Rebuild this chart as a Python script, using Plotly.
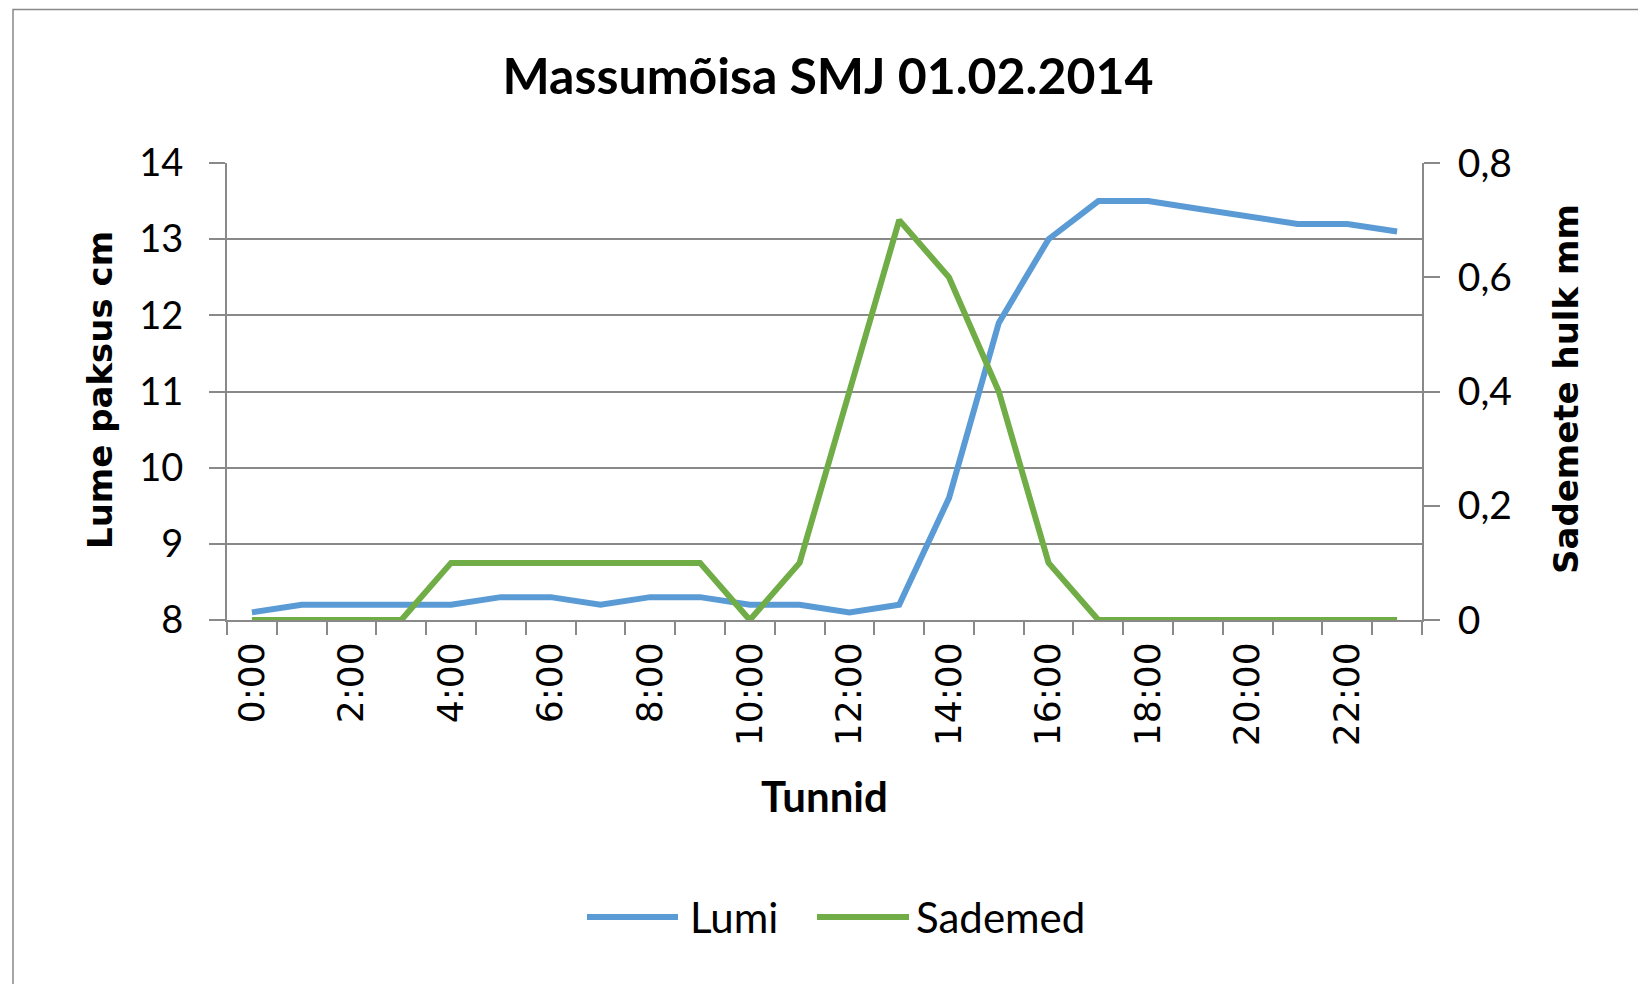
import plotly.graph_objects as go

hours = ["0:00", "1:00", "2:00", "3:00", "4:00", "5:00", "6:00", "7:00", "8:00", "9:00",
         "10:00", "11:00", "12:00", "13:00", "14:00", "15:00", "16:00", "17:00", "18:00",
         "19:00", "20:00", "21:00", "22:00", "23:00"]
lumi = [8.1, 8.2, 8.2, 8.2, 8.2, 8.3, 8.3, 8.2, 8.3, 8.3, 8.2, 8.2, 8.1, 8.2,
        9.6, 11.9, 13.0, 13.5, 13.5, 13.4, 13.3, 13.2, 13.2, 13.1]
sademed = [0, 0, 0, 0, 0.1, 0.1, 0.1, 0.1, 0.1, 0.1, 0, 0.1, 0.4, 0.7,
           0.6, 0.4, 0.1, 0, 0, 0, 0, 0, 0, 0]
series_names = ["Lumi", "Sademed"]
colors = ["#5B9BD5", "#70AD47"]

W, H = 1646, 984
OFF = 8  # page body margin
# plot area in page pixel coordinates
L, R, T, B = 227, 1422, 163, 620
pw, ph = R - L, B - T
def px(x):
    return (x - L) / pw
def py(y):
    return (B - y) / ph

GRAY = "#898989"
idx = list(range(len(hours)))
LW = 6

fig = go.Figure()
fig.add_trace(go.Scatter(x=idx, y=lumi, name=series_names[0], mode="lines",
                         line=dict(color=colors[0], width=LW), showlegend=False))
fig.add_trace(go.Scatter(x=idx, y=sademed, name=series_names[1], mode="lines", yaxis="y2",
                         line=dict(color=colors[1], width=LW), showlegend=False))

fig.update_layout(
    width=W, height=H,
    margin=dict(l=L - OFF, r=W - (R - OFF), t=T - OFF, b=H - (B - OFF), autoexpand=False),
    paper_bgcolor="white", plot_bgcolor="white",
    separators=", ",
    title=dict(text="<b>Massumõisa SMJ 01.02.2014</b>", x=(828 - OFF) / W, y=1 - (76 - OFF) / H,
               xanchor="center", yanchor="middle",
               font=dict(family="Lato", size=50, color="black")),
    xaxis=dict(range=[-0.5, len(hours) - 0.5], tickmode="array",
               tickvals=idx[::2], ticktext=hours[::2], tickangle=-90,
               ticks="", ticklabelstandoff=6,
               tickfont=dict(family="DejaVu Sans", size=36, color="black"),
               showgrid=False, zeroline=False,
               showline=True, linecolor=GRAY, linewidth=2,
               minor=dict(tickmode="linear", tick0=-0.5, dtick=1, ticks="outside",
                          ticklen=13, tickcolor=GRAY, tickwidth=1.5, showgrid=False)),
    yaxis=dict(range=[8, 14], dtick=1, tick0=8, ticks="outside", ticklen=16,
               tickcolor=GRAY, tickwidth=1.5, ticklabelstandoff=18,
               tickfont=dict(family="Lato", size=38, color="black"),
               showgrid=True, gridcolor=GRAY, gridwidth=1.8, zeroline=False,
               showline=True, linecolor=GRAY, linewidth=2),
    yaxis2=dict(range=[0, 0.8], dtick=0.2, tick0=0, overlaying="y", side="right",
                ticks="outside", ticklen=16, tickcolor=GRAY, tickwidth=1.5,
                ticklabelstandoff=10,
                tickfont=dict(family="Lato", size=39, color="black"),
                showgrid=False, zeroline=False,
                showline=True, linecolor=GRAY, linewidth=2),
    showlegend=False,
)

fig.add_annotation(text="<b>Tunnid</b>", x=px(825), y=py(796), xref="paper", yref="paper",
                   showarrow=False, xanchor="center", yanchor="middle",
                   font=dict(family="Lato", size=42, color="black"))
fig.add_annotation(text="<b>Lume paksus cm</b>", x=px(100), y=py(390), xref="paper", yref="paper",
                   showarrow=False, textangle=-90, xanchor="center", yanchor="middle",
                   font=dict(family="DejaVu Sans", size=34, color="black"))
fig.add_annotation(text="<b>Sademete hulk mm</b>", x=px(1566), y=py(389), xref="paper", yref="paper",
                   showarrow=False, textangle=-90, xanchor="center", yanchor="middle",
                   font=dict(family="DejaVu Sans", size=34, color="black"))

# legend (line sample + label)
leg_y = py(917)
for name, col, x0, x1, tx in [(series_names[0], colors[0], 587, 678, 688),
                              (series_names[1], colors[1], 817, 909, 914)]:
    fig.add_shape(type="line", xref="paper", yref="paper", x0=px(x0), x1=px(x1),
                  y0=leg_y, y1=leg_y, line=dict(color=col, width=LW))
    fig.add_annotation(text=name, x=px(tx), y=leg_y, xref="paper", yref="paper",
                       showarrow=False, xanchor="left", yanchor="middle",
                       font=dict(family="Lato", size=42, color="black"))

fig.add_shape(type="rect", xref="paper", yref="paper",
              x0=px(13), x1=px(1720), y0=py(1060), y1=py(9.5),
              line=dict(color=GRAY, width=1.5), fillcolor="rgba(0,0,0,0)", layer="below")

fig.write_html("out.html")
